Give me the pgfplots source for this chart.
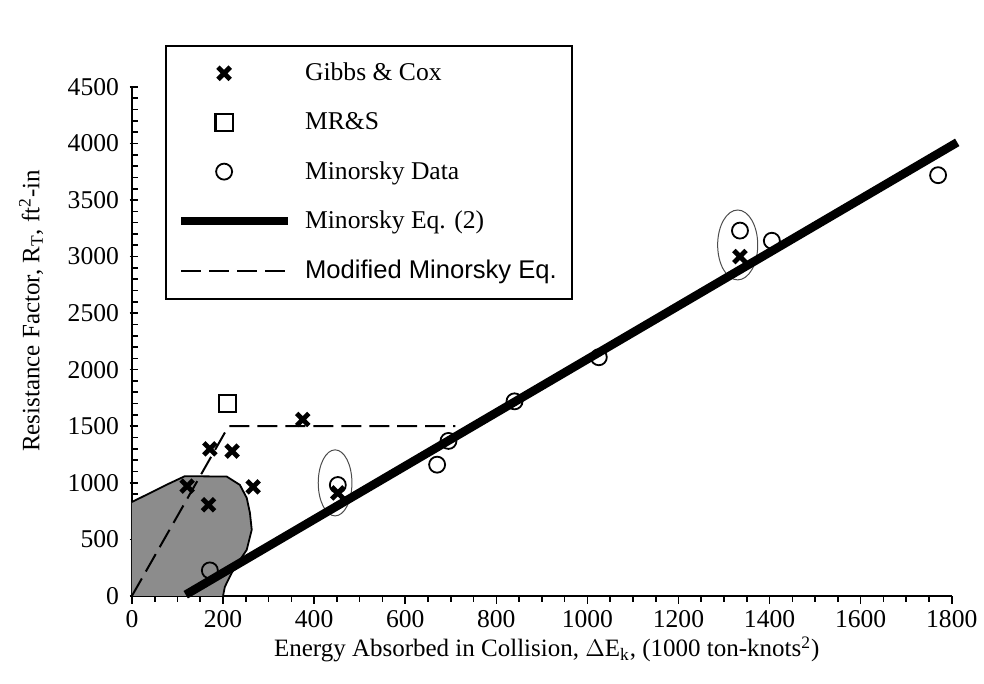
\documentclass[border=0pt]{standalone}
\usepackage{pgfplots}
\pgfplotsset{compat=1.18}
\usepackage{fontspec}
\setmainfont{Liberation Serif}
\newfontfamily\arialfont{Liberation Sans}
\begin{document}
\begin{tikzpicture}
\begin{axis}[
  name=ax,
  at={(0,0)}, anchor=origin,
  scale only axis, width=410pt, height=254.5pt,
  xmin=0, xmax=1800, ymin=0, ymax=4500,
  axis x line*=bottom, axis y line*=left,
  axis line style={line width=0.9pt, -},
  xtick={0,200,...,1800}, ytick={0,500,...,4500},
  minor x tick num=3, minor y tick num=4,
  tick align=inside,
  major tick length=4pt, minor tick length=3pt,
  tick style={line width=0.8pt, black},
  major x tick style={yshift=-4pt},
  minor x tick style={yshift=-3pt},
  major y tick style={xshift=-1.2pt},
  /pgf/number format/assume math mode=true,
  /pgf/number format/1000 sep={},
  tick label style={font=\fontsize{12.8}{14}\selectfont},
  yticklabel style={xshift=-3pt},
  xticklabel style={yshift=-4pt},
  label style={font=\fontsize{12.5}{14}\selectfont},
  xlabel={Energy Absorbed in Collision, $\Delta$E\textsubscript{k}, (1000 ton-knots\textsuperscript{2})},
  ylabel={Resistance Factor, R\textsubscript{T}, ft\textsuperscript{2}-in},
  xlabel style={at={(axis description cs:0.506,-0.105)}, anchor=center},
  ylabel style={at={(axis description cs:-0.123,0.56)}, anchor=center, rotate=0},
  clip=false,
  legend style={at={(0.0402,1.0825)}, anchor=north west, draw=black, line width=0.9pt,
    font=\fontsize{12.8}{15}\selectfont, row sep=10.4pt, inner xsep=5.5pt, inner ysep=6.5pt,
    fill=white},
  legend cell align=left,
  legend image code/.code={\path[draw=none,fill=none] (0pt,0pt) -- (60pt,0pt);\draw[mark repeat=2,mark phase=2,#1] plot coordinates {(0pt,0pt) (26.75pt,0pt) (53.5pt,0pt)};},
  markleg/.style={legend image code/.code={\path[draw=none,fill=none] (0pt,0pt) -- (60pt,0pt);\draw[##1] plot coordinates {(21.5pt,0pt)};}},
]
% shaded region
\addplot[fill=black!45, draw=none, forget plot] coordinates {
(0,0) (0,830) (40,910) (80,990) (116,1058) (208,1055) (237,981) (252,866) (259,734) (263,584) (252,407) (233,292) (219,203) (204,80) (200,0)} -- cycle;
\addplot[draw=black, line width=0.9pt, forget plot] coordinates {
(0,830) (40,910) (80,990) (116,1058) (208,1055) (237,981) (252,866) (259,734) (263,584) (252,407) (233,292) (219,203) (204,80) (200,0)};
% ellipses
\draw[line width=0.5pt, gray!60!black] (axis cs:446,999) ellipse [x radius=37, y radius=292];
\draw[line width=0.5pt, gray!60!black] (axis cs:1330,3103) ellipse [x radius=44, y radius=309];
% Gibbs & Cox
\addplot[only marks, mark=x, mark size=4.3pt, mark options={line width=2.4pt, black}, markleg] coordinates {
(121,970) (171,1300) (220,1280) (168,805) (266,964) (375,1560) (452,910) (1335,3000)};
\addlegendentry{Gibbs \& Cox}
% MR&S
\addplot[only marks, mark=square, mark size=4.3pt, mark options={line width=1.1pt, black}, markleg] coordinates {
(210,1700)};
\addlegendentry{MR\&S}
% Minorsky data
\addplot[only marks, mark=o, mark size=4pt, mark options={line width=0.9pt, black}, markleg] coordinates {
(171,225) (452,980) (670,1160) (695,1370) (840,1720) (1025,2110) (1335,3230) (1405,3140) (1770,3720)};
\addlegendentry{Minorsky Data}
% Minorsky Eq. (2)
\addplot[black, line width=4.3pt, no markers] coordinates {(118,10) (1812,4010)};
\addlegendentry{Minorsky Eq. (2)}
% Modified Minorsky Eq.
\addplot[black, line width=1pt, no markers, dash pattern=on 10pt off 4pt] coordinates {(0,0) (212,1500) (220,1500) (710,1500)};
\addlegendentry{\arialfont Modified Minorsky Eq.}
\end{axis}
\path (ax.origin) ++(-66pt,-44pt) rectangle ++(492pt,342pt);
\end{tikzpicture}
\end{document}
